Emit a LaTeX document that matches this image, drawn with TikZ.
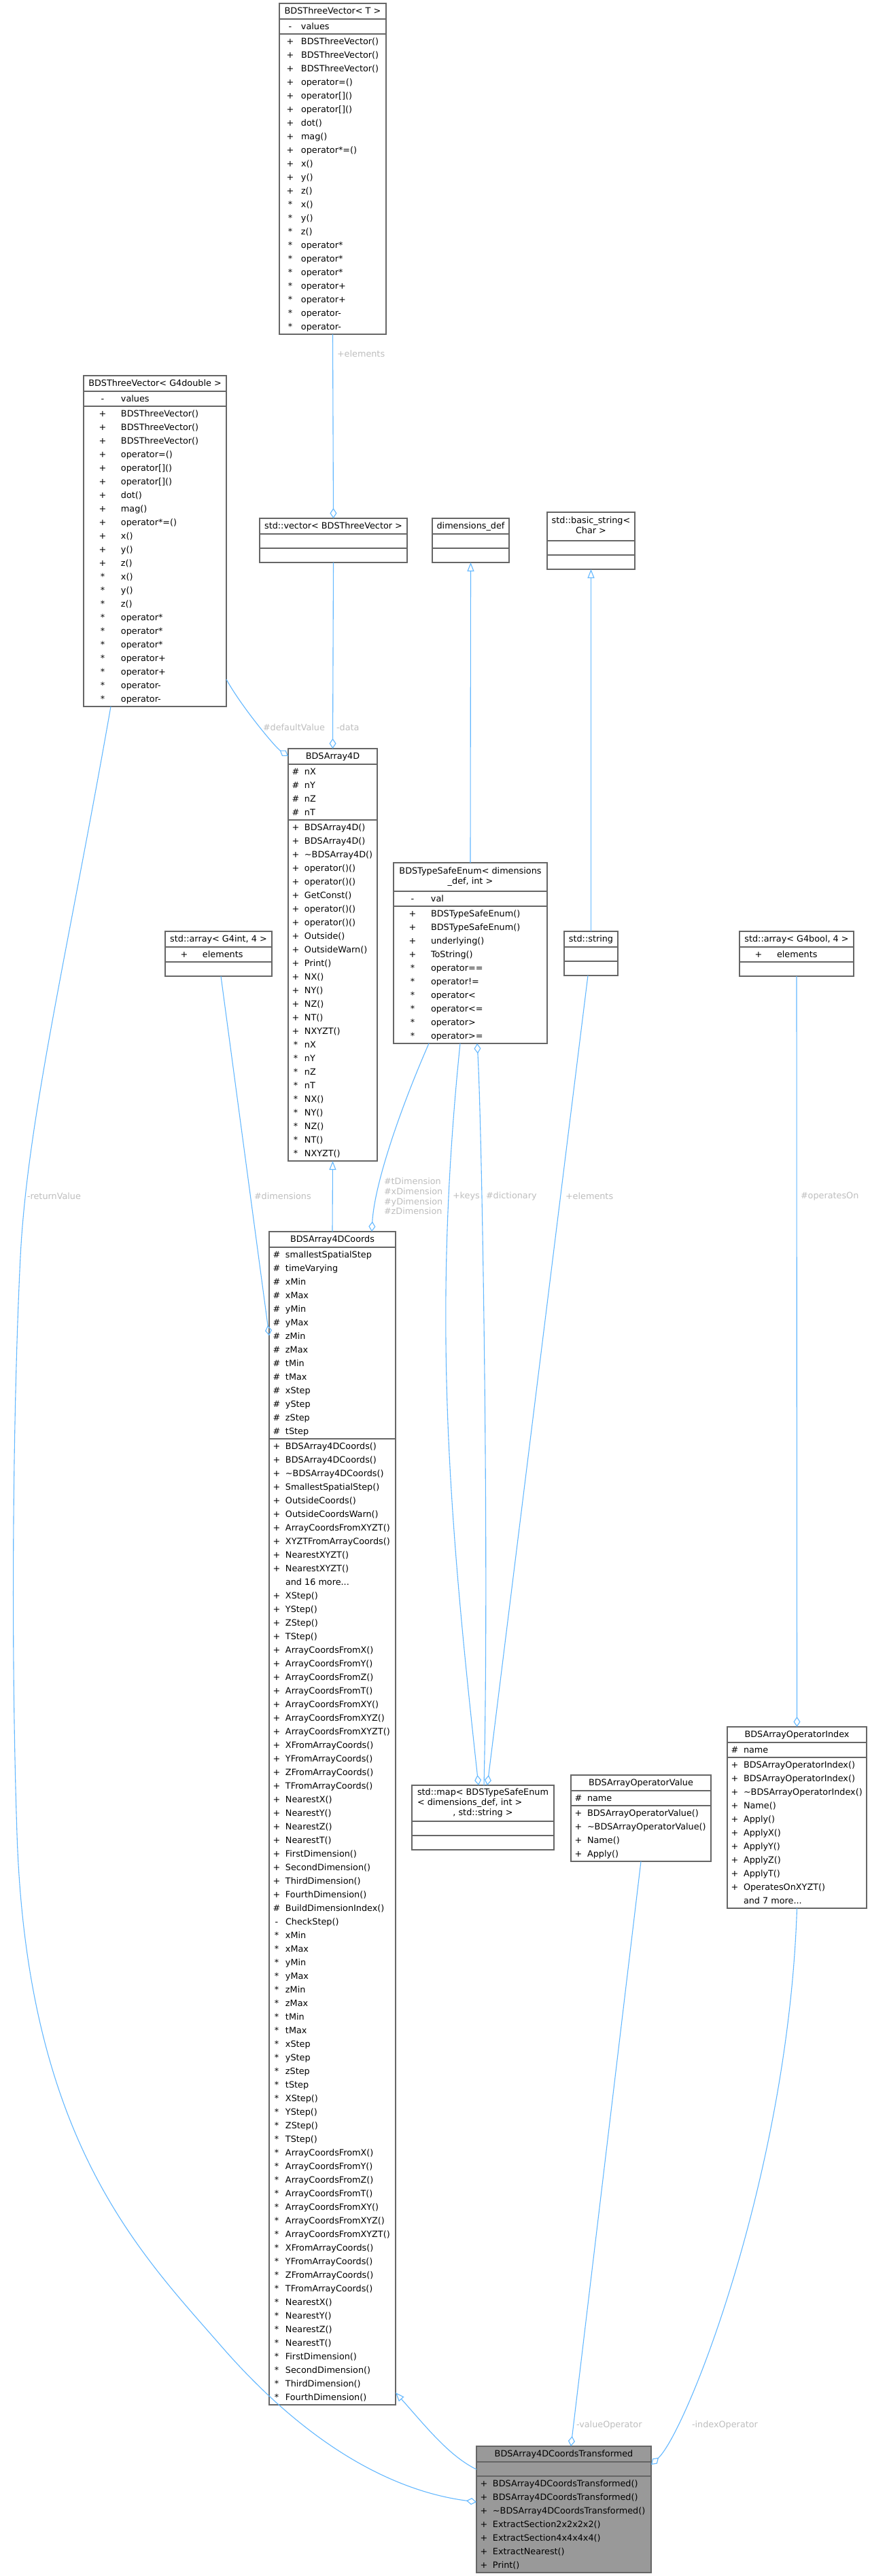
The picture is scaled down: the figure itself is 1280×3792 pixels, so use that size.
\documentclass[tikz,border=0pt]{standalone}
\usepackage{fontspec}
\setmainfont{DejaVu Sans}
\usetikzlibrary{arrows.meta,calc}
\definecolor{edgecol}{HTML}{63B8FF}
\definecolor{boxcol}{HTML}{666666}
\definecolor{lblcol}{HTML}{BEBEBE}
\definecolor{hlfill}{HTML}{999999}
\newcommand\vc[2]{\makebox[8pt][c]{#1}\hspace{2.5pt}#2}
\newcommand\vm[2]{\makebox[13pt][c]{#1}\hspace{1.5pt}#2}
\newcommand\vw[2]{\makebox[25pt][c]{#1}\hspace{1pt}#2}
\newcommand\umlrows[1]{\begin{tabular}{@{}l@{}}#1\end{tabular}}
\newcommand\umlttl[1]{\begin{tabular}{@{}c@{}}#1\end{tabular}}
\newcommand\umlmttl[1]{\fontsize{6.4}{7.4}\selectfont\begin{tabular}{@{}c@{}}#1\end{tabular}}
\newcommand\ubx[6][]{\node[ubox,#1,minimum width=#5*0.5pt,minimum height=#6*0.5pt,anchor=north west] (#2) at (#3,#4) {};}
\newcommand\usep[2]{\draw[ubline] ($(#1.north west)+(0,#2)$) -- ($(#1.north east)+(0,#2)$);}
\newcommand\utl[4]{\node[utext,anchor=north] (#2) at ($(#1.north)+(0,#3)$) {#4};}
\newcommand\urw[4]{\node[utext,anchor=north west] (#2) at ($(#1.north west)+(3,#3)$) {\umlrows{#4}};}
\newcommand\tvlist[1]{#1{+}{BDSThreeVector()}\\#1{+}{BDSThreeVector()}\\#1{+}{BDSThreeVector()}\\#1{+}{operator=()}\\#1{+}{operator[]()}\\#1{+}{operator[]()}\\#1{+}{dot()}\\#1{+}{mag()}\\#1{+}{operator*=()}\\#1{+}{x()}\\#1{+}{y()}\\#1{+}{z()}\\#1{*}{x()}\\#1{*}{y()}\\#1{*}{z()}\\#1{*}{operator*}\\#1{*}{operator*}\\#1{*}{operator*}\\#1{*}{operator+}\\#1{*}{operator+}\\#1{*}{operator-}\\#1{*}{operator-}}
\tikzset{
 ubox/.style={draw=boxcol,line width=0.6pt,fill=white,inner sep=0pt,outer sep=0pt},
 ubline/.style={draw=boxcol,line width=0.6pt},
 utext/.style={inner sep=0pt,outer sep=0pt},
 lbl/.style={inner sep=0pt,outer sep=0pt,text=lblcol,anchor=west},
 conn/.style={draw=edgecol,line width=0.55pt},
 dia/.style={conn,{Diamond[open,length=7.5pt,width=5pt]}-},
 tri/.style={conn,{Triangle[open,length=6.5pt,width=5pt]}-},
}
\begin{document}
\begin{tikzpicture}[x=0.5pt,y=-0.5pt,every node/.style={font={\fontsize{6.4}{10}\selectfont}}]
\fill[white] (0,0) rectangle (1280,3792);
\useasboundingbox (0,0) rectangle (1280,3792);

% BDSThreeVector< T >
\ubx{TV}{411}{5}{157}{487}
\usep{TV}{23}\usep{TV}{45}
\utl{TV}{TVt}{1.5}{\umlttl{BDSThreeVector< T >}}
\urw{TV}{TVa}{24}{\vm{-}{values}}
\urw{TV}{TVm}{46}{\tvlist\vm}

% BDSThreeVector< G4double >
\ubx{TVD}{123}{553}{210}{487}
\usep{TVD}{23}\usep{TVD}{45}
\utl{TVD}{TVDt}{1.5}{\umlttl{BDSThreeVector< G4double >}}
\urw{TVD}{TVDa}{24}{\vw{-}{values}}
\urw{TVD}{TVDm}{46}{\tvlist\vw}

% std::vector
\ubx{SV}{382}{763}{217}{65}
\usep{SV}{23}\usep{SV}{44}
\utl{SV}{SVt}{1.5}{\umlttl{std::vector< BDSThreeVector >}}

% dimensions_def
\ubx{DD}{636}{763}{113}{65}
\usep{DD}{23}\usep{DD}{44}
\utl{DD}{DDt}{1.5}{\umlttl{dimensions\_def}}

% std::basic_string
\ubx{BS}{805}{754}{129}{84}
\usep{BS}{42}\usep{BS}{63}
\utl{BS}{BSt}{6.2}{\umlmttl{std::basic\_string<\\Char >}}

% BDSArray4D
\ubx{A4}{424}{1102}{131}{607}
\usep{A4}{23}\usep{A4}{105}
\utl{A4}{A4t}{1.5}{\umlttl{BDSArray4D}}
\urw{A4}{A4a}{24}{\vc{\#}{nX}\\\vc{\#}{nY}\\\vc{\#}{nZ}\\\vc{\#}{nT}}
\urw{A4}{A4m}{106}{\vc{+}{BDSArray4D()}\\\vc{+}{BDSArray4D()}\\\vc{+}{\textasciitilde BDSArray4D()}\\\vc{+}{operator()()}\\\vc{+}{operator()()}\\\vc{+}{GetConst()}\\\vc{+}{operator()()}\\\vc{+}{operator()()}\\\vc{+}{Outside()}\\\vc{+}{OutsideWarn()}\\\vc{+}{Print()}\\\vc{+}{NX()}\\\vc{+}{NY()}\\\vc{+}{NZ()}\\\vc{+}{NT()}\\\vc{+}{NXYZT()}\\\vc{*}{nX}\\\vc{*}{nY}\\\vc{*}{nZ}\\\vc{*}{nT}\\\vc{*}{NX()}\\\vc{*}{NY()}\\\vc{*}{NZ()}\\\vc{*}{NT()}\\\vc{*}{NXYZT()}}

% BDSTypeSafeEnum
\ubx{TSE}{579}{1270}{226}{266}
\usep{TSE}{42}\usep{TSE}{64}
\utl{TSE}{TSEt}{6.2}{\umlmttl{BDSTypeSafeEnum< dimensions\\\_def, int >}}
\urw{TSE}{TSEa}{43}{\vw{-}{val}}
\urw{TSE}{TSEm}{65}{\vw{+}{BDSTypeSafeEnum()}\\\vw{+}{BDSTypeSafeEnum()}\\\vw{+}{underlying()}\\\vw{+}{ToString()}\\\vw{*}{operator==}\\\vw{*}{operator!=}\\\vw{*}{operator<}\\\vw{*}{operator<=}\\\vw{*}{operator>}\\\vw{*}{operator>=}}

% std::string
\ubx{SS}{830}{1371}{79}{65}
\usep{SS}{23}\usep{SS}{44}
\utl{SS}{SSt}{1.5}{\umlttl{std::string}}

% std::array< G4int, 4 >
\ubx{AI}{243}{1371}{157}{66}
\usep{AI}{23}\usep{AI}{45}
\utl{AI}{AIt}{1.5}{\umlttl{std::array< G4int, 4 >}}
\urw{AI}{AIa}{24}{\vw{+}{elements}}

% std::array< G4bool, 4 >
\ubx{AB}{1088}{1371}{168}{66}
\usep{AB}{23}\usep{AB}{45}
\utl{AB}{ABt}{1.5}{\umlttl{std::array< G4bool, 4 >}}
\urw{AB}{ABa}{24}{\vw{+}{elements}}

% BDSArray4DCoords
\ubx{Coords}{396}{1813}{186}{1727}
\usep{Coords}{23}\usep{Coords}{305}
\utl{Coords}{Coordst}{1.5}{\umlttl{BDSArray4DCoords}}
\urw{Coords}{Coordsa}{24}{\vc{\#}{smallestSpatialStep}\\\vc{\#}{timeVarying}\\\vc{\#}{xMin}\\\vc{\#}{xMax}\\\vc{\#}{yMin}\\\vc{\#}{yMax}\\\vc{\#}{zMin}\\\vc{\#}{zMax}\\\vc{\#}{tMin}\\\vc{\#}{tMax}\\\vc{\#}{xStep}\\\vc{\#}{yStep}\\\vc{\#}{zStep}\\\vc{\#}{tStep}}
\urw{Coords}{Coordsm}{306}{\vc{+}{BDSArray4DCoords()}\\\vc{+}{BDSArray4DCoords()}\\\vc{+}{\textasciitilde BDSArray4DCoords()}\\\vc{+}{SmallestSpatialStep()}\\\vc{+}{OutsideCoords()}\\\vc{+}{OutsideCoordsWarn()}\\\vc{+}{ArrayCoordsFromXYZT()}\\\vc{+}{XYZTFromArrayCoords()}\\\vc{+}{NearestXYZT()}\\\vc{+}{NearestXYZT()}\\\vc{}{and 16 more...}\\\vc{+}{XStep()}\\\vc{+}{YStep()}\\\vc{+}{ZStep()}\\\vc{+}{TStep()}\\\vc{+}{ArrayCoordsFromX()}\\\vc{+}{ArrayCoordsFromY()}\\\vc{+}{ArrayCoordsFromZ()}\\\vc{+}{ArrayCoordsFromT()}\\\vc{+}{ArrayCoordsFromXY()}\\\vc{+}{ArrayCoordsFromXYZ()}\\\vc{+}{ArrayCoordsFromXYZT()}\\\vc{+}{XFromArrayCoords()}\\\vc{+}{YFromArrayCoords()}\\\vc{+}{ZFromArrayCoords()}\\\vc{+}{TFromArrayCoords()}\\\vc{+}{NearestX()}\\\vc{+}{NearestY()}\\\vc{+}{NearestZ()}\\\vc{+}{NearestT()}\\\vc{+}{FirstDimension()}\\\vc{+}{SecondDimension()}\\\vc{+}{ThirdDimension()}\\\vc{+}{FourthDimension()}\\\vc{\#}{BuildDimensionIndex()}\\\vc{-}{CheckStep()}\\\vc{*}{xMin}\\\vc{*}{xMax}\\\vc{*}{yMin}\\\vc{*}{yMax}\\\vc{*}{zMin}\\\vc{*}{zMax}\\\vc{*}{tMin}\\\vc{*}{tMax}\\\vc{*}{xStep}\\\vc{*}{yStep}\\\vc{*}{zStep}\\\vc{*}{tStep}\\\vc{*}{XStep()}\\\vc{*}{YStep()}\\\vc{*}{ZStep()}\\\vc{*}{TStep()}\\\vc{*}{ArrayCoordsFromX()}\\\vc{*}{ArrayCoordsFromY()}\\\vc{*}{ArrayCoordsFromZ()}\\\vc{*}{ArrayCoordsFromT()}\\\vc{*}{ArrayCoordsFromXY()}\\\vc{*}{ArrayCoordsFromXYZ()}\\\vc{*}{ArrayCoordsFromXYZT()}\\\vc{*}{XFromArrayCoords()}\\\vc{*}{YFromArrayCoords()}\\\vc{*}{ZFromArrayCoords()}\\\vc{*}{TFromArrayCoords()}\\\vc{*}{NearestX()}\\\vc{*}{NearestY()}\\\vc{*}{NearestZ()}\\\vc{*}{NearestT()}\\\vc{*}{FirstDimension()}\\\vc{*}{SecondDimension()}\\\vc{*}{ThirdDimension()}\\\vc{*}{FourthDimension()}}

% std::map
\ubx{MAP}{606}{2628}{209}{95}
\usep{MAP}{53}\usep{MAP}{74}
\utl{MAP}{MAPt}{4.3}{\fontsize{6.4}{7.4}\selectfont\begin{tabular}{@{}l@{}}std::map< BDSTypeSafeEnum\\< dimensions\_def, int >\\\multicolumn{1}{@{}c@{}}{, std::string >}\end{tabular}}

% BDSArrayOperatorValue
\ubx{AOV}{840}{2613}{206}{127}
\usep{AOV}{23}\usep{AOV}{45}
\utl{AOV}{AOVt}{1.5}{\umlttl{BDSArrayOperatorValue}}
\urw{AOV}{AOVa}{24}{\vc{\#}{name}}
\urw{AOV}{AOVm}{46}{\vc{+}{BDSArrayOperatorValue()}\\\vc{+}{\textasciitilde BDSArrayOperatorValue()}\\\vc{+}{Name()}\\\vc{+}{Apply()}}

% BDSArrayOperatorIndex
\ubx{AOI}{1070}{2542}{205}{267}
\usep{AOI}{23}\usep{AOI}{45}
\utl{AOI}{AOIt}{1.5}{\umlttl{BDSArrayOperatorIndex}}
\urw{AOI}{AOIa}{24}{\vc{\#}{name}}
\urw{AOI}{AOIm}{46}{\vc{+}{BDSArrayOperatorIndex()}\\\vc{+}{BDSArrayOperatorIndex()}\\\vc{+}{\textasciitilde BDSArrayOperatorIndex()}\\\vc{+}{Name()}\\\vc{+}{Apply()}\\\vc{+}{ApplyX()}\\\vc{+}{ApplyY()}\\\vc{+}{ApplyZ()}\\\vc{+}{ApplyT()}\\\vc{+}{OperatesOnXYZT()}\\\vc{}{and 7 more...}}

% BDSArray4DCoordsTransformed
\ubx[fill=hlfill]{BT}{701}{3601}{257}{186}
\usep{BT}{23}\usep{BT}{44}
\utl{BT}{BTt}{1.5}{\umlttl{BDSArray4DCoordsTransformed}}
\urw{BT}{BTm}{45}{\vc{+}{BDSArray4DCoordsTransformed()}\\\vc{+}{BDSArray4DCoordsTransformed()}\\\vc{+}{\textasciitilde BDSArray4DCoordsTransformed()}\\\vc{+}{ExtractSection2x2x2x2()}\\\vc{+}{ExtractSection4x4x4x4()}\\\vc{+}{ExtractNearest()}\\\vc{+}{Print()}}

% connector end points
\coordinate (a4dv) at ($(A4.north west)+(0,11)$);
\coordinate (tvddv) at ($(TVD.north east)+(0,447)$);
\coordinate (cdim) at ($(Coords.north west)+(0,153)$);
\coordinate (aidim) at ($(AI.south)+(3.5,0)$);
\coordinate (ctd) at ($(Coords.north west)+(151,0)$);
\coordinate (tsetd) at ($(TSE.south west)+(52,0)$);
\coordinate (tsekeys) at ($(TSE.south west)+(98,0)$);
\coordinate (mkeys) at ($(MAP.north west)+(98,0)$);
\coordinate (tsedict) at ($(TSE.south west)+(123,0)$);
\coordinate (mdict) at ($(MAP.north west)+(106,0)$);
\coordinate (mel) at ($(MAP.north west)+(111,0)$);
\coordinate (ssel) at ($(SS.south)+(-4.5,0)$);
\coordinate (btval) at ($(BT.north west)+(139,0)$);
\coordinate (btidx) at ($(BT.north east)+(0,27)$);
\coordinate (cinh) at ($(Coords.north east)+(0,1709)$);
\coordinate (btinh) at ($(BT.north west)+(0,34)$);
\coordinate (btrv) at ($(BT.north west)+(0,82)$);
\coordinate (tvdrv) at ($(TVD.south west)+(40,0)$);

% connectors
\draw[dia] (SV.north) -- (TV.south);
\draw[dia] (A4.north) -- (SV.south);
\draw[dia] (a4dv) .. controls (405,1100) and (355,1040) .. (tvddv);
\draw[tri] (A4.south) -- (Coords.north);
\draw[dia] (cdim) -- (aidim);
\draw[dia] (ctd) .. controls (551,1740) and (592,1625) .. (tsetd);
\draw[dia] (mkeys) .. controls (660,2228) and (636,1937) .. (tsekeys);
\draw[dia] (tsedict) .. controls (709,1650) and (720,2300) .. (mdict);
\draw[dia] (mel) -- (ssel);
\draw[tri] (BS.south) -- (SS.north);
\draw[tri] (DD.south) -- (TSE.north);
\draw[dia] (AOI.north) -- (AB.south);
\draw[dia] (btval) -- (AOV.south);
\draw[dia] (btidx) .. controls (1010,3580) and (1160,3200) .. (AOI.south);
\draw[tri] (cinh) .. controls (625,3570) and (660,3615) .. (btinh);
\draw[dia] (btrv) .. controls (600,3670) and (470,3620) .. (325,3453) .. controls (205,3315) and (40,3150) .. (25,2700) .. controls (15,2400) and (20,2050) .. (30,1850) .. controls (40,1650) and (100,1400) .. (tvdrv);

% labels
\node[lbl] (l1) at (496,521) {+elements};
\node[lbl] (l2) at (495,1071) {-data};
\node[lbl] (l3) at (387,1071) {\#defaultValue};
\node[lbl] (l4) at (40,1761) {-returnValue};
\node[lbl] (l5) at (374,1761) {\#dimensions};
\node[lbl,align=left,font={\fontsize{6.4}{7.4}\selectfont}] (l6) at (565,1761) {\#tDimension\\\#xDimension\\\#yDimension\\\#zDimension};
\node[lbl] (l7) at (666,1761) {+keys};
\node[lbl] (l8) at (715,1761) {\#dictionary};
\node[lbl] (l9) at (832,1761) {+elements};
\node[lbl] (l10) at (1178,1761) {\#operatesOn};
\node[lbl] (l11) at (848,3570) {-valueOperator};
\node[lbl] (l12) at (1018,3570) {-indexOperator};
\end{tikzpicture}
\end{document}
